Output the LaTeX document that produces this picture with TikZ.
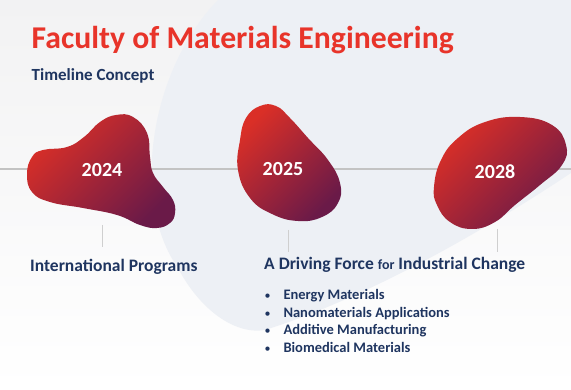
\documentclass[tikz,border=0pt]{standalone}
\usepackage{fontspec}
\setmainfont{Carlito}
\definecolor{titlered}{HTML}{E8342A}
\definecolor{navy}{HTML}{1F3560}
\definecolor{bgtop}{HTML}{F2F2F3}
\definecolor{bgblue}{HTML}{EDF0F5}
\definecolor{blobA}{HTML}{DA2F27}
\definecolor{blobB}{HTML}{6A1A48}
\definecolor{tl}{HTML}{C3C3C3}
\definecolor{tick}{HTML}{CFCFCF}
\tikzset{
  blob/.style={top color=blobA, bottom color=blobB, shading angle=45},
  year/.style={text=white, font=\fontsize{20}{24}\selectfont\bfseries, inner sep=0},
  head/.style={anchor=base west, text=navy, font=\fontsize{17.5}{21}\selectfont\bfseries, inner sep=0},
  item/.style={anchor=base west, text=navy, font=\fontsize{14.5}{17}\selectfont\bfseries, inner sep=0},
  bul/.style={anchor=base, text=navy, font=\fontsize{12}{15}\selectfont, inner sep=0},
  tickline/.style={draw=tick, line width=0.9pt}
}
\begin{document}
\begin{tikzpicture}[x=1pt,y=-1pt]
\useasboundingbox (0,0) rectangle (571,390);
\shade[top color=bgtop, bottom color=white] (0,0) rectangle (571,390);
\fill[bgblue] (218,0) .. controls (150,70) and (130,200) .. (178,268)
  .. controls (200,310) and (235,335) .. (265,330)
  .. controls (360,300) and (470,240) .. (571,173) -- (571,0) -- cycle;
% timeline
\coordinate (tlL) at (0,169.5);
\coordinate (tlR) at (571,169.5);
\draw[tl, line width=2pt] (tlL) -- (tlR);
% blobs
\shade[blob] plot[smooth cycle, tension=0.75] coordinates {(27,174) (32,157) (43,150) (67,147) (84,137) (100,122) (116,115) (133,117) (147,133) (150,157) (153,173) (163,187) (173,200) (175,213) (170,223) (157,228) (140,225) (117,215) (83,208) (50,202) (32,192)};
\shade[blob] plot[smooth cycle, tension=0.75] coordinates {(238,170) (240,140) (246,118) (260,106) (276,106) (290,118) (308,138) (328,160) (340,183) (338,203) (322,217) (298,221) (272,214) (250,198)};
\shade[blob] plot[smooth cycle, tension=0.75] coordinates {(434,187) (441,160) (458,138) (485,122) (520,117) (552,125) (566,145) (562,165) (540,185) (515,205) (495,222) (472,229) (450,222) (437,205)};
\node[year] (y24) at (102,170) {2024};
\node[year] (y25) at (283,169.5) {2025};
\node[year] (y28) at (495,171.5) {2028};
% ticks
\coordinate (t24a) at (102.5,225); \coordinate (t24b) at (102.5,247);
\coordinate (t25a) at (288,230); \coordinate (t25b) at (288,252);
\coordinate (t28a) at (497,229); \coordinate (t28b) at (497,252);
\draw[tickline] (t24a) -- (t24b);
\draw[tickline] (t25a) -- (t25b);
\draw[tickline] (t28a) -- (t28b);
% texts
\node[anchor=base west, text=titlered, font=\fontsize{31.7}{36}\selectfont\bfseries, inner sep=0] (title) at (31.5,48.3) {Faculty of Materials Engineering};
\node[anchor=base west, text=navy, font=\fontsize{17}{20}\selectfont\bfseries, inner sep=0] (sub) at (31.5,81) {Timeline Concept};
\node[head] (intl) at (30,272) {International Programs};
\node[head] (drive) at (264,270) {A Driving Force {\fontsize{14}{17}\selectfont for} Industrial Change};
\foreach \t/\yy [count=\i] in {Energy Materials/300, Nanomaterials Applications/317.5, Additive Manufacturing/335, Biomedical Materials/352.5}{
  \node[bul] (b\i) at (267.5,\yy) {•};
  \node[item] (it\i) at (283.3,\yy) {\t};
}
\end{tikzpicture}
\end{document}
